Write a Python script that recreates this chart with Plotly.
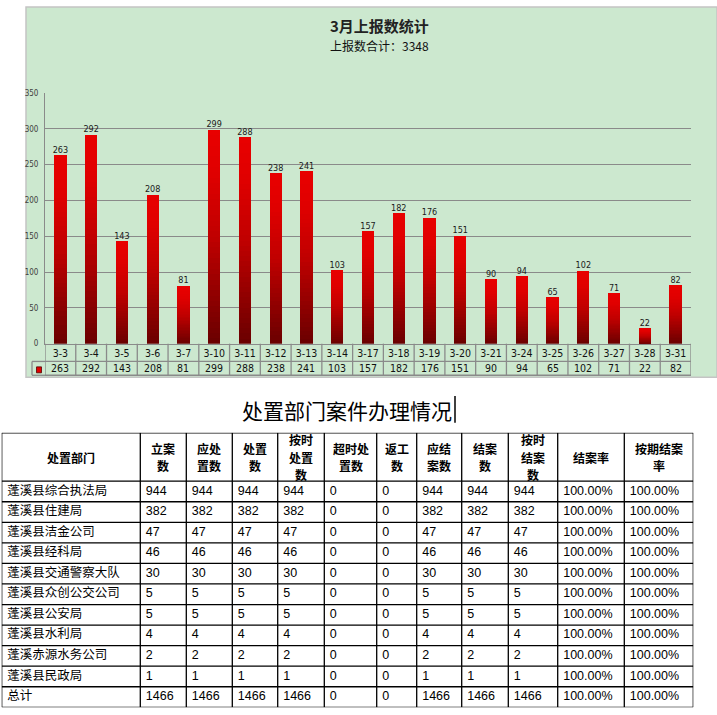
import numpy as np
import plotly.graph_objects as go

# ---------------- data ----------------
dates = ['3-3', '3-4', '3-5', '3-6', '3-7', '3-10', '3-11', '3-12', '3-13', '3-14',
         '3-17', '3-18', '3-19', '3-20', '3-21', '3-24', '3-25', '3-26', '3-27', '3-28', '3-31']
counts = [263, 292, 143, 208, 81, 299, 288, 238, 241, 103,
          157, 182, 176, 151, 90, 94, 65, 102, 71, 22, 82]
y_ticks = [0, 50, 100, 150, 200, 250, 300, 350]

chart_title = '3月上报数统计'
subtitle_label = '上报数合计：'
table_title = '处置部门案件办理情况'

headers = ['处置部门', '立案<br>数', '应处<br>置数', '处置<br>数', '按时<br>处置<br>数', '超时处<br>置数',
           '返工<br>数', '应结<br>案数', '结案<br>数', '按时<br>结案<br>数', '结案率', '按期结案<br>率']
departments = ['蓬溪县综合执法局', '蓬溪县住建局', '蓬溪县洁金公司', '蓬溪县经科局', '蓬溪县交通警察大队',
               '蓬溪县众创公交公司', '蓬溪县公安局', '蓬溪县水利局', '蓬溪赤源水务公司', '蓬溪县民政局', '总计']
filed = [944, 382, 47, 46, 30, 5, 5, 4, 2, 1, 1466]
to_handle = [944, 382, 47, 46, 30, 5, 5, 4, 2, 1, 1466]
handled = [944, 382, 47, 46, 30, 5, 5, 4, 2, 1, 1466]
handled_on_time = [944, 382, 47, 46, 30, 5, 5, 4, 2, 1, 1466]
handled_overtime = [0, 0, 0, 0, 0, 0, 0, 0, 0, 0, 0]
rework = [0, 0, 0, 0, 0, 0, 0, 0, 0, 0, 0]
to_close = [944, 382, 47, 46, 30, 5, 5, 4, 2, 1, 1466]
closed = [944, 382, 47, 46, 30, 5, 5, 4, 2, 1, 1466]
closed_on_time = [944, 382, 47, 46, 30, 5, 5, 4, 2, 1, 1466]
close_rate = ['100.00%', '100.00%', '100.00%', '100.00%', '100.00%', '100.00%',
              '100.00%', '100.00%', '100.00%', '100.00%', '100.00%']
on_time_close_rate = ['100.00%', '100.00%', '100.00%', '100.00%', '100.00%', '100.00%',
                      '100.00%', '100.00%', '100.00%', '100.00%', '100.00%']

columns = [departments, filed, to_handle, handled, handled_on_time, handled_overtime,
           rework, to_close, closed, closed_on_time, close_rate, on_time_close_rate]

# ---------------- layout helpers ----------------
W, H = 717, 715


def px_x(p):
    return p / W


def px_y(p):
    return 1 - p / H


GREEN = '#CCE8CF'
GRID = '#8A8A8A'
NARROW = 'Liberation Sans Narrow, DejaVu Sans Condensed, Liberation Sans, sans-serif'
CJK = 'Noto Sans CJK SC, sans-serif'
CELL_FONT = 'Liberation Sans, Arial, Noto Sans CJK SC, sans-serif'

PLOT_L, PLOT_R, PLOT_T, PLOT_B = 45, 691, 90, 344
ROW1_B, ROW2_B = 362, 376

fig = go.Figure()

# ---------------- gradient bars (stacked slices of each bar) ----------------
N_SEG = 40
stops_t = [0.0, 0.5, 0.8, 1.0]
stops_r = [105, 192, 224, 232]
bar_w = 0.4
vals = np.array(counts, dtype=float)
for i in range(N_SEG):
    t = (i + 0.5) / N_SEG
    r = int(round(np.interp(t, stops_t, stops_r)))
    fig.add_trace(go.Bar(
        x=dates, y=vals / N_SEG, base=vals * i / N_SEG, width=bar_w,
        marker=dict(color=f'rgb({r},0,0)', line=dict(width=0)),
        showlegend=False, hoverinfo='skip'))

fig.add_trace(go.Scatter(
    x=dates, y=counts, mode='text', text=[str(v) for v in counts],
    textposition='top center', cliponaxis=False,
    textfont=dict(size=9, color='#1a1a1a', family=NARROW),
    showlegend=False, hoverinfo='skip'))

# ---------------- lower table (drawn on hidden axes x2/y2) ----------------
col_widths = [138.6, 46, 46, 45.4, 46.6, 52.4, 40, 45, 46.6, 49.4, 66.6, 69]
header_h = 49.0
row_h = 20.84
n_rows = len(departments)
tot_w = float(sum(col_widths))
tot_h = header_h + row_h * n_rows
edges = np.concatenate([[0.0], np.cumsum(col_widths)])
row_centers = [header_h + row_h * (k + 0.5) for k in range(n_rows)]
header_line_gap = 17.5

for c, col in enumerate(columns):
    fig.add_trace(go.Scatter(
        x=[edges[c] + 5.5] * n_rows, y=row_centers, mode='text',
        text=[str(v) for v in col], textposition='middle right', cliponaxis=False,
        textfont=dict(size=12.5, color='#000000', family=CELL_FONT),
        xaxis='x2', yaxis='y2', showlegend=False, hoverinfo='skip'))

shapes = []
# chart panel
shapes.append(dict(type='rect', xref='paper', yref='paper', x0=px_x(26), x1=1.0,
                   y0=px_y(378), y1=px_y(3), fillcolor=GREEN,
                   line=dict(color='#C4C4C4', width=1.5), layer='below'))
# data table below the x axis (category boundaries)
for i in range(len(dates) + 1):
    shapes.append(dict(type='line', xref='x', yref='paper', x0=i - 0.5, x1=i - 0.5,
                       y0=px_y(ROW2_B), y1=px_y(PLOT_B), line=dict(color=GRID, width=1.3)))
for yy in (ROW1_B, ROW2_B):
    shapes.append(dict(type='line', xref='x', yref='paper', x0=-0.5, x1=len(dates) - 0.5,
                       y0=px_y(yy), y1=px_y(yy), line=dict(color=GRID, width=1.3)))
    shapes.append(dict(type='line', xref='paper', yref='paper', x0=px_x(32), x1=px_x(PLOT_L),
                       y0=px_y(yy), y1=px_y(yy), line=dict(color=GRID, width=1.3)))
shapes.append(dict(type='line', xref='paper', yref='paper', x0=px_x(32), x1=px_x(32),
                   y0=px_y(ROW2_B), y1=px_y(ROW1_B), line=dict(color=GRID, width=1.3)))
# legend key
shapes.append(dict(type='rect', xref='paper', yref='paper', x0=px_x(36.5), x1=px_x(41.5),
                   y0=px_y(373.5), y1=px_y(367.5), fillcolor='#E00000',
                   line=dict(color='#500000', width=0.8)))
# lower table grid
for e in edges:
    shapes.append(dict(type='line', xref='x2', yref='y2', x0=e, x1=e, y0=0, y1=tot_h,
                       line=dict(color='#000000', width=1.3)))
for yy in [0.0, header_h] + [header_h + row_h * (k + 1) for k in range(n_rows)]:
    shapes.append(dict(type='line', xref='x2', yref='y2', x0=0, x1=tot_w, y0=yy, y1=yy,
                       line=dict(color='#000000', width=1.3)))
# text caret after the heading
shapes.append(dict(type='line', xref='paper', yref='paper', x0=px_x(455), x1=px_x(455),
                   y0=px_y(424), y1=px_y(397), line=dict(color='#000000', width=1.5)))

annotations = []
annotations.append(dict(xref='paper', yref='paper', x=px_x(379), y=px_y(22),
                        text=f'<b>{chart_title}</b>', showarrow=False,
                        font=dict(size=15, color='#222222', family=CJK),
                        xanchor='center', yanchor='middle'))
annotations.append(dict(xref='paper', yref='paper', x=px_x(379), y=px_y(42),
                        text=f'{subtitle_label}{sum(counts)}', showarrow=False,
                        font=dict(size=12, color='#111111', family=CJK),
                        xanchor='center', yanchor='middle'))
for d, v in zip(dates, counts):
    annotations.append(dict(xref='x', yref='paper', x=d, y=px_y((ROW1_B + ROW2_B) / 2),
                            text=str(v), showarrow=False,
                            font=dict(size=10.5, color='#111111', family=NARROW),
                            xanchor='center', yanchor='middle'))
annotations.append(dict(xref='paper', yref='paper', x=px_x(347), y=px_y(411),
                        text=table_title, showarrow=False,
                        font=dict(size=21, color='#000000', family=CJK),
                        xanchor='center', yanchor='middle'))
for c, h in enumerate(headers):
    lines = h.split('<br>')
    n = len(lines)
    for k, ln in enumerate(lines):
        yc = header_h / 2 + (k - (n - 1) / 2) * header_line_gap
        annotations.append(dict(xref='x2', yref='y2', x=(edges[c] + edges[c + 1]) / 2, y=yc,
                                text=f'<b>{ln}</b>', showarrow=False,
                                font=dict(size=12, color='#000000', family=CJK),
                                xanchor='center', yanchor='middle'))

fig.update_layout(
    width=W, height=H, margin=dict(l=0, r=0, t=0, b=0),
    paper_bgcolor='#FFFFFF', plot_bgcolor='rgba(0,0,0,0)',
    barmode='overlay', bargap=0, showlegend=False,
    shapes=shapes, annotations=annotations,
    xaxis=dict(domain=[px_x(PLOT_L), px_x(PLOT_R)], type='category', range=[-0.5, len(dates) - 0.5],
               showgrid=False, showline=True, linecolor=GRID, linewidth=1.3, ticks='',
               tickfont=dict(size=10.5, color='#111111', family=NARROW), fixedrange=True,
               zeroline=False),
    yaxis=dict(domain=[px_y(PLOT_B), px_y(PLOT_T)], range=[0, 350], tickvals=y_ticks,
               showgrid=True, gridcolor=GRID, gridwidth=1, showline=True, linecolor=GRID,
               linewidth=1, zeroline=False, ticks='', ticklabelstandoff=4,
               tickfont=dict(size=8, color='#404040', family=NARROW), fixedrange=True),
    xaxis2=dict(domain=[px_x(1.7), px_x(693.3)], range=[0, tot_w], visible=False,
                anchor='y2', fixedrange=True),
    yaxis2=dict(domain=[px_y(712.3), px_y(434.3)], range=[tot_h, 0], visible=False,
                anchor='x2', fixedrange=True),
)

fig.write_html('out.html', config={'displayModeBar': False},
               post_script="document.body.style.margin='0px';")
